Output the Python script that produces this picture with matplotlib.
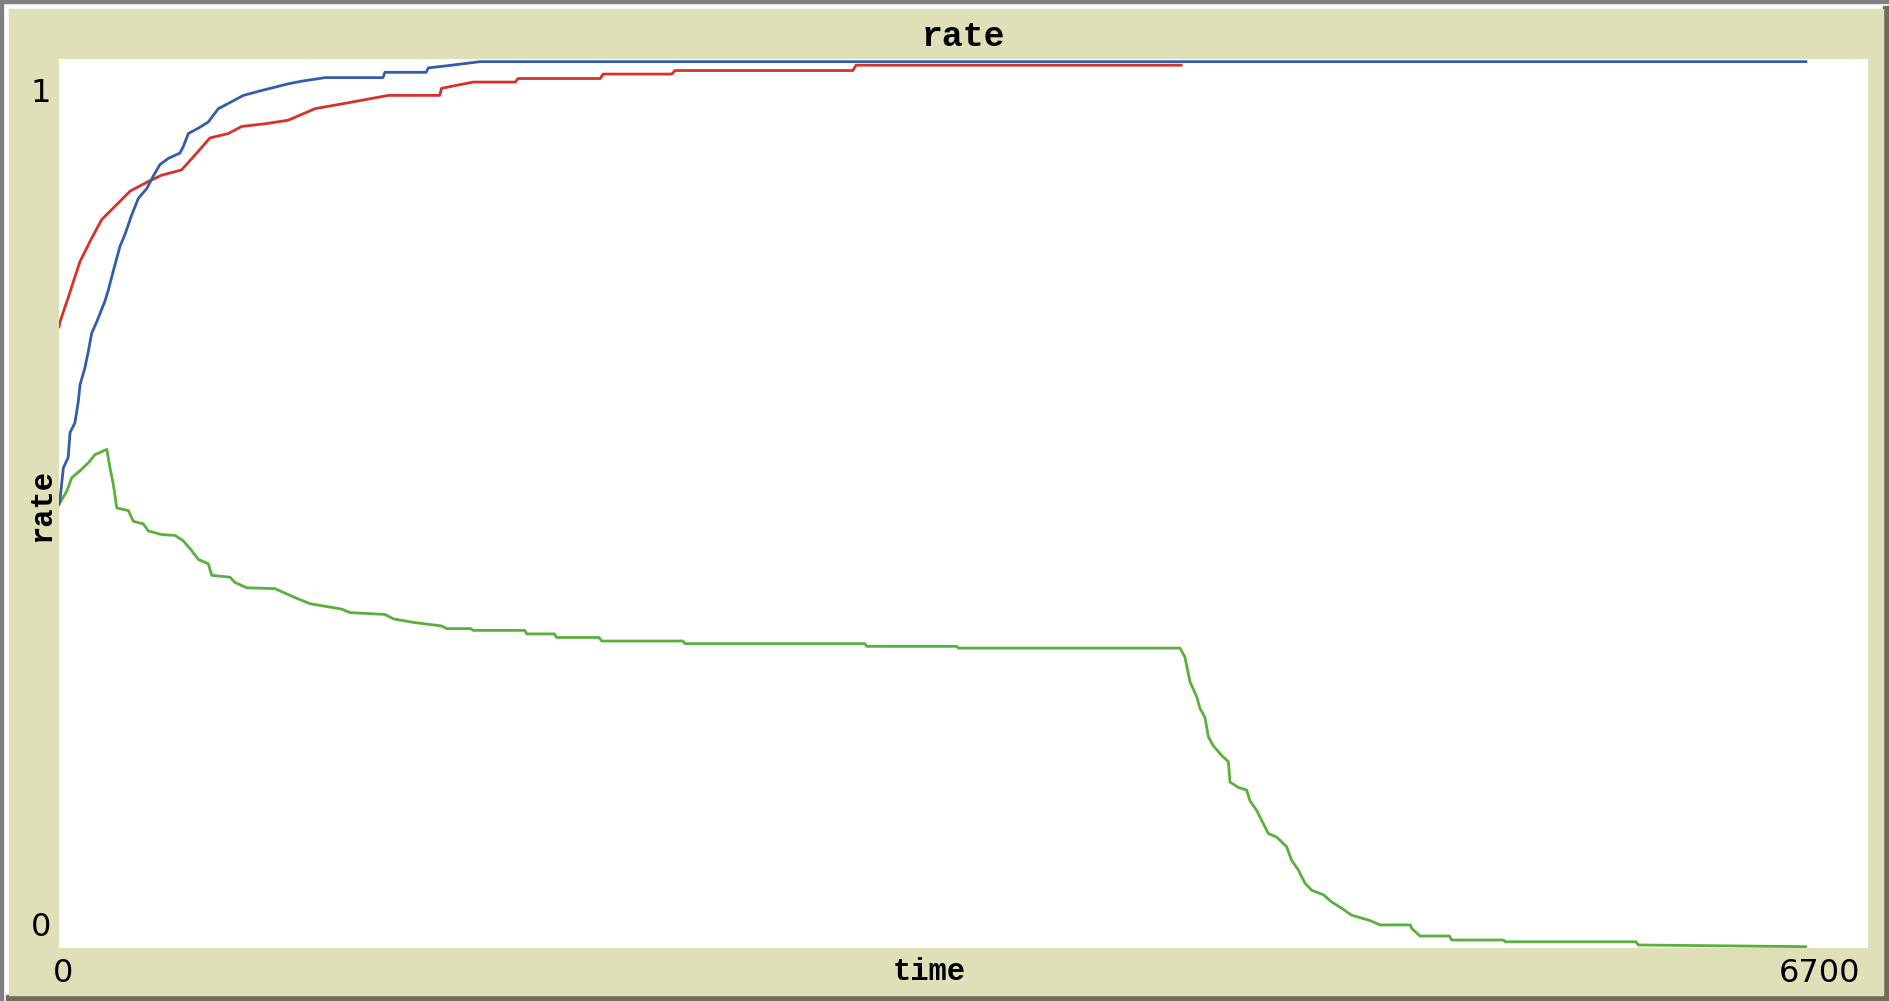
import matplotlib
matplotlib.use('Agg')
import matplotlib.pyplot as plt
from matplotlib.patches import Rectangle

blue_time = [0, 4, 16, 34, 41, 59, 71, 78, 96, 109, 121, 140, 170, 183, 201, 226, 244,
             269, 294, 325, 349, 374, 405, 448, 460, 479, 516, 553, 590, 640, 683, 757,
             849, 899, 985, 1200, 1207, 1360, 1368, 1454, 1559, 6470]
blue_rate = [0.500, 0.506, 0.541, 0.553, 0.581, 0.592, 0.615, 0.635, 0.654, 0.673, 0.693,
             0.706, 0.729, 0.742, 0.763, 0.791, 0.804, 0.826, 0.845, 0.856, 0.870, 0.883,
             0.890, 0.896, 0.903, 0.918, 0.924, 0.931, 0.946, 0.954, 0.961, 0.967, 0.974,
             0.977, 0.981, 0.981, 0.987, 0.987, 0.992, 0.995, 0.999, 0.999]

red_time = [0, 4, 34, 78, 121, 158, 214, 263, 331, 380, 454, 516, 559, 627, 677, 763, 849,
            948, 1059, 1220, 1410, 1417, 1534, 1690, 1700, 2005, 2015, 2270, 2281, 2940,
            2952, 4156]
red_rate = [0.700, 0.706, 0.733, 0.774, 0.800, 0.821, 0.838, 0.853, 0.864, 0.871, 0.877,
            0.898, 0.913, 0.918, 0.926, 0.929, 0.933, 0.946, 0.952, 0.961, 0.961, 0.969,
            0.976, 0.976, 0.980, 0.980, 0.985, 0.985, 0.989, 0.989, 0.995, 0.995]

green_time = [0, 29, 47, 78, 109, 133, 177, 189, 201, 214, 257, 275, 312, 331, 380, 430,
              460, 491, 516, 553, 566, 633, 652, 695, 800, 874, 930, 1047, 1078, 1207, 1238,
              1312, 1417, 1436, 1525, 1534, 1725, 1732, 1835, 1843, 2000, 2010, 2310, 2319,
              2985, 2991, 3325, 3331, 4152, 4170, 4189, 4214, 4226, 4244, 4257, 4275, 4306,
              4331, 4337, 4368, 4399, 4411, 4436, 4454, 4479, 4510, 4547, 4565, 4590, 4615,
              4640, 4683, 4713, 4750, 4787, 4855, 4893, 5005, 5010, 5041, 5150, 5158, 5350,
              5356, 5840, 5849, 6469]
green_rate = [0.500, 0.515, 0.530, 0.538, 0.547, 0.556, 0.562, 0.541, 0.523, 0.496, 0.493,
              0.481, 0.478, 0.470, 0.466, 0.465, 0.459, 0.448, 0.438, 0.433, 0.420, 0.418,
              0.412, 0.406, 0.405, 0.395, 0.388, 0.382, 0.378, 0.376, 0.371, 0.367, 0.363,
              0.360, 0.360, 0.358, 0.358, 0.354, 0.354, 0.350, 0.350, 0.346, 0.346, 0.343,
              0.343, 0.340, 0.340, 0.338, 0.338, 0.328, 0.300, 0.283, 0.270, 0.260, 0.238,
              0.228, 0.217, 0.210, 0.187, 0.181, 0.178, 0.166, 0.155, 0.144, 0.129, 0.125,
              0.114, 0.099, 0.088, 0.073, 0.065, 0.060, 0.052, 0.045, 0.037, 0.031, 0.026,
              0.026, 0.022, 0.0135, 0.0135, 0.009, 0.009, 0.007, 0.007, 0.0034, 0.0015]

x_min, x_max = 0, 6700
y_min, y_max = 0, 1

BEIGE = '#e0e0b8'
W, H = 1890, 1001


def frame(fig):
    # NetLogo style widget border: grey/white at top-left, dark shadow at bottom-right
    def box(x, y, w, h, c):
        fig.patches.append(Rectangle((x / W, 1 - (y + h) / H), w / W, h / H,
                                     transform=fig.transFigure, color=c, zorder=-1))
    box(0, 0, W, H, '#ffffff')
    box(0, 0, W, 3, '#808080')
    box(0, 0, 3, H, '#808080')
    box(1883, 6, 7, H - 6, '#6e6e58')
    box(6, 995, W - 6, 6, '#6e6e58')
    box(9, 9, 1874, 986, BEIGE)


def main():
    fig = plt.figure(figsize=(18.9, 10.01), dpi=100)
    frame(fig)

    # plot area in pixels: x 59..1868, y 59..948
    ax = fig.add_axes([59 / W, 1 - 948 / H, 1809 / W, 889 / H])
    ax.set_facecolor('white')
    for s in ax.spines.values():
        s.set_visible(False)
    ax.set_xticks([])
    ax.set_yticks([])
    ax.set_xlim(x_min, x_max)
    ax.set_ylim(y_min, y_max + 0.002)

    ax.plot(green_time, green_rate, color='#59b03c', lw=2.0)
    ax.plot(red_time, red_rate, color='#d73229', lw=2.0)
    ax.plot(blue_time, blue_rate, color='#345da9', lw=2.0)

    mono = dict(family='Liberation Mono', weight='bold', color='black')
    sans = dict(family='DejaVu Sans', fontsize=23, color='black')

    fig.text(963 / W, 1 - 36 / H, 'rate', fontsize=25, ha='center', va='center', **mono)
    fig.text(42 / W, 1 - 505 / H, 'rate', fontsize=22, rotation=90, ha='center', va='center', **mono)
    fig.text(929 / W, 1 - 972 / H, 'time', fontsize=22, ha='center', va='center', **mono)

    fig.text(51 / W, 1 - 94 / H, str(y_max), ha='right', va='center', **sans)
    fig.text(51 / W, 1 - 927 / H, str(y_min), ha='right', va='center', **sans)
    fig.text(63 / W, 1 - 973 / H, str(x_min), ha='center', va='center', **sans)
    fig.text(1860 / W, 1 - 973 / H, str(x_max), ha='right', va='center', **sans)

    fig.savefig('out.png', dpi=100)


if __name__ == '__main__':
    main()
